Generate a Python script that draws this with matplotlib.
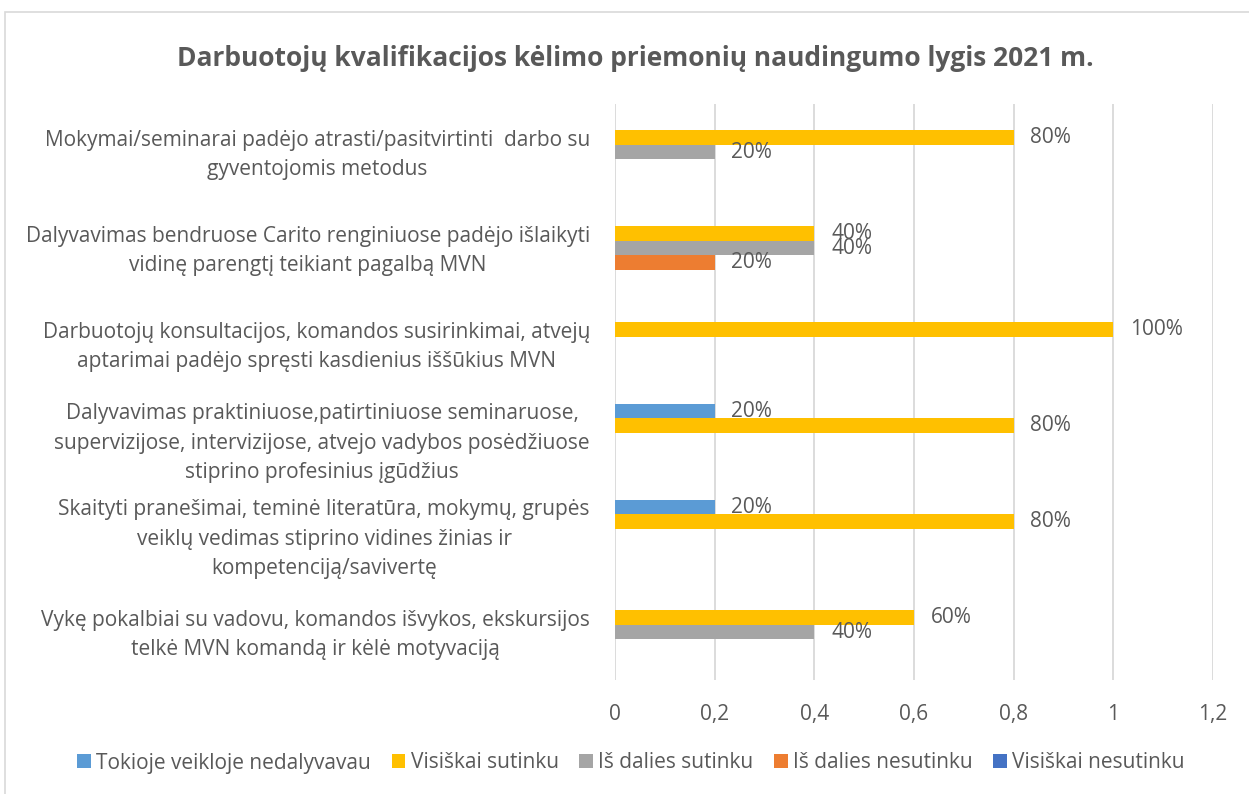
import numpy as np
import matplotlib.pyplot as plt
from matplotlib.patches import Patch, Rectangle
from matplotlib.ticker import FuncFormatter
from matplotlib.transforms import ScaledTranslation

plt.rcParams['font.family'] = ['Open Sans', 'DejaVu Sans']

categories = [
    "Mokymai/seminarai padėjo atrasti/pasitvirtinti  darbo su\ngyventojomis metodus",
    "Dalyvavimas bendruose Carito renginiuose padėjo išlaikyti\nvidinę parengtį teikiant pagalbą MVN",
    "Darbuotojų konsultacijos, komandos susirinkimai, atvejų\naptarimai padėjo spręsti kasdienius iššūkius MVN",
    "Dalyvavimas praktiniuose,patirtiniuose seminaruose,\nsupervizijose, intervizijose, atvejo vadybos posėdžiuose\nstiprino profesinius įgūdžius",
    "Skaityti pranešimai, teminė literatūra, mokymų, grupės\nveiklų vedimas stiprino vidines žinias ir\nkompetenciją/savivertę",
    "Vykę pokalbiai su vadovu, komandos išvykos, ekskursijos\ntelkė MVN komandą ir kėlė motyvaciją",
]

series_names = ["Tokioje veikloje nedalyvavau", "Visiškai sutinku", "Iš dalies sutinku",
                "Iš dalies nesutinku", "Visiškai nesutinku"]
nedalyvavau = [0, 0, 0, 0.2, 0.2, 0]
visiskai_sutinku = [0.8, 0.4, 1.0, 0.8, 0.8, 0.6]
is_dalies_sutinku = [0.2, 0.4, 0, 0, 0, 0.4]
is_dalies_nesutinku = [0, 0.2, 0, 0, 0, 0]
visiskai_nesutinku = [0, 0, 0, 0, 0, 0]
series_values = [nedalyvavau, visiskai_sutinku, is_dalies_sutinku, is_dalies_nesutinku, visiskai_nesutinku]
colors = ["#5B9BD5", "#FFC000", "#A5A5A5", "#ED7D31", "#4472C4"]

TEXT = "#595959"
FS = 15

fig = plt.figure(figsize=(12.49, 7.94), dpi=100)
# chart border like Excel
fig.patches.append(Rectangle((5 / 1249, -0.05), 1.2, 1 - 12 / 794 + 0.05, transform=fig.transFigure,
                             fill=False, edgecolor="#D9D9D9", linewidth=1.2))

ax = fig.add_axes([615 / 1249, 1 - 680 / 794, (1213 - 615) / 1249, 576 / 794])

y = np.arange(len(categories))
h = 0.151
for k, (vals, col) in enumerate(zip(series_values, colors)):
    pos = y + (k - 2) * h
    ax.barh(pos, vals, height=h, color=col, zorder=3)
    for p, v in zip(pos, vals):
        if v > 0:
            ax.annotate(f"{v * 100:.0f}%", (v, p), xytext=(12, 0), textcoords="offset points",
                        ha="left", va="center", fontsize=FS, color=TEXT)

ax.set_xlim(0, 1.2)
ax.set_ylim(len(categories) - 0.5, -0.5)
ax.set_xticks(np.arange(0, 1.21, 0.2))
ax.xaxis.set_major_formatter(FuncFormatter(lambda v, _: "0" if v == 0 else f"{v:.1f}".replace(".", ",").replace(",0", "")))
ax.set_yticks(y)
ax.set_yticklabels(categories, multialignment="center", linespacing=1.52)
ax.tick_params(axis="both", length=0, labelsize=FS, labelcolor=TEXT)
ax.tick_params(axis="y", pad=18)
ax.tick_params(axis="x", pad=17)
# nudge category labels up a little
shift = ScaledTranslation(0, 3.5 / 100, fig.dpi_scale_trans)
for lab in ax.get_yticklabels():
    lab.set_transform(lab.get_transform() + shift)
ax.grid(axis="x", color="#D9D9D9", linewidth=1.3, zorder=0)
for s in ax.spines.values():
    s.set_visible(False)

fig.text(635 / 1249, 1 - 58 / 794, "Darbuotojų kvalifikacijos kėlimo priemonių naudingumo lygis 2021 m.",
         ha="center", va="center", fontsize=19, fontweight="bold", color=TEXT)

handles = [Patch(facecolor=c, edgecolor="none") for c in colors]
fig.legend(handles, series_names, loc="center", bbox_to_anchor=(631 / 1249, 1 - 763 / 794), ncol=5,
           frameon=False, fontsize=FS, labelcolor=TEXT, handlelength=0.65, handleheight=0.65,
           handletextpad=0.25, columnspacing=1.0)

fig.savefig("out.png", dpi=100)
